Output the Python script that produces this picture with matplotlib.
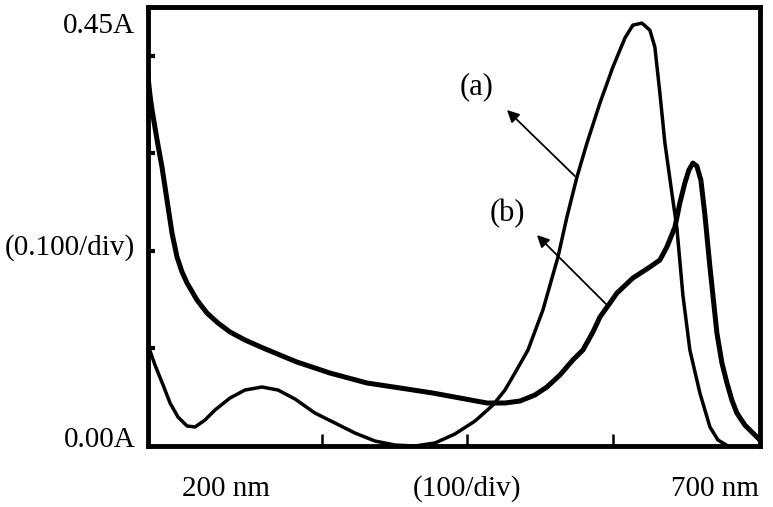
import matplotlib.pyplot as plt

# spectrum (a): wavelength (nm) / absorbance (A)
wl_a = [200.0, 205.7, 212.3, 218.0, 224.5, 231.9, 238.4, 246.6, 254.7, 267.0, 279.2,
        293.1, 306.2, 320.1, 336.4, 352.8, 369.1, 385.5, 401.8, 418.1, 434.5, 450.8,
        467.2, 481.9, 491.7, 499.8, 510.5, 522.7, 535.0, 542.3, 550.5, 558.7, 569.3,
        579.9, 589.7, 596.2, 603.6, 610.1, 614.2, 618.3, 622.4, 628.1, 632.2, 637.1,
        642.8, 651.0, 659.2, 665.7, 673.9]
abs_a = [0.1035, 0.0830, 0.0625, 0.0441, 0.0297, 0.0205, 0.0195, 0.0267, 0.0369, 0.0492,
         0.0574, 0.0605, 0.0574, 0.0482, 0.0338, 0.0236, 0.0133, 0.0051, 0.0010, 0.0,
         0.0031, 0.0123, 0.0256, 0.0420, 0.0574, 0.0748, 0.0984, 0.1394, 0.1937, 0.2347,
         0.2757, 0.3106, 0.3516, 0.3885, 0.4182, 0.4315, 0.4336, 0.4264, 0.4090, 0.3618,
         0.3106, 0.2593, 0.2235, 0.1548, 0.0984, 0.0543, 0.0195, 0.0062, 0.0]

# spectrum (b)
wl_b = [200.0, 201.6, 203.3, 207.4, 211.4, 215.5, 219.6, 223.7, 227.8, 231.9, 240.0,
        248.2, 257.2, 267.0, 279.2, 294.0, 307.8, 321.7, 336.4, 348.7, 378.9, 405.9,
        432.8, 454.9, 477.0, 491.7, 503.9, 516.2, 526.0, 536.6, 547.2, 555.4, 563.6,
        569.3, 577.5, 583.2, 596.2, 610.1, 618.3, 624.0, 630.6, 634.6, 638.7, 642.0,
        645.3, 648.5, 651.8, 655.1, 659.2, 664.9, 669.0, 673.1, 677.1, 681.2, 687.7,
        694.3, 700.0]
abs_b = [0.3782, 0.3598, 0.3444, 0.3137, 0.2860, 0.2522, 0.2183, 0.1937, 0.1784, 0.1671,
         0.1497, 0.1363, 0.1261, 0.1169, 0.1087, 0.1005, 0.0933, 0.0861, 0.0800, 0.0748,
         0.0646, 0.0595, 0.0543, 0.0492, 0.0441, 0.0441, 0.0461, 0.0523, 0.0605, 0.0728,
         0.0882, 0.0984, 0.1169, 0.1322, 0.1466, 0.1568, 0.1722, 0.1835, 0.1907, 0.2040,
         0.2245, 0.2491, 0.2696, 0.2829, 0.2901, 0.2870, 0.2727, 0.2368, 0.1835, 0.1158,
         0.0851, 0.0646, 0.0472, 0.0338, 0.0215, 0.0133, 0.0062]

y_labels = ['0.45A', '(0.100/div)', '0.00A']
y_label_pos = [0.431, 0.204, 0.006]
x_labels = ['200 nm', '(100/div)', '700 nm']
x_label_pos = [264, 461, 663]
x_ticks = [342, 461, 580]
y_ticks = [0.1, 0.2, 0.3, 0.4]

plt.rcParams['font.family'] = ['Liberation Serif', 'DejaVu Serif']

fig = plt.figure(figsize=(7.73, 5.07), dpi=100)
ax = fig.add_axes([0.1915, 0.1203, 0.7915, 0.8657])

ax.plot(wl_b, abs_b, color='black', lw=3.6, solid_capstyle='round', solid_joinstyle='round')
ax.plot(wl_a, abs_a, color='black', lw=2.5, solid_capstyle='round', solid_joinstyle='round')

ax.set_xlim(200, 700)
ax.set_ylim(0, 0.45)
for s in ax.spines.values():
    s.set_linewidth(3.5)

ax.set_xticks(x_ticks)
ax.set_yticks(y_ticks)
ax.set_xticklabels([])
ax.set_yticklabels([])
ax.tick_params(axis='x', direction='in', length=9, width=1.8)
ax.tick_params(axis='y', direction='in', length=5, width=3)

for txt, yv in zip(y_labels, y_label_pos):
    ax.text(-0.021, yv, txt, transform=ax.get_yaxis_transform(),
            ha='right', va='center', fontsize=21)
for txt, xv in zip(x_labels, x_label_pos):
    ax.text(xv, -0.098, txt, transform=ax.get_xaxis_transform(),
            ha='center', va='center', fontsize=21)

# arrows from the curves to the labels
ax.annotate('', xy=(491.7, 0.3465), xytext=(550.5, 0.2747),
            arrowprops=dict(arrowstyle='-|>', lw=1.3, color='black', mutation_scale=18))
ax.annotate('', xy=(516.2, 0.2183), xytext=(577.5, 0.1415),
            arrowprops=dict(arrowstyle='-|>', lw=1.3, color='black', mutation_scale=18))
ax.text(468.8, 0.368, '(a)', ha='center', va='center', fontsize=22)
ax.text(493.3, 0.2388, '(b)', ha='center', va='center', fontsize=22)

fig.savefig('out.png', dpi=100)
